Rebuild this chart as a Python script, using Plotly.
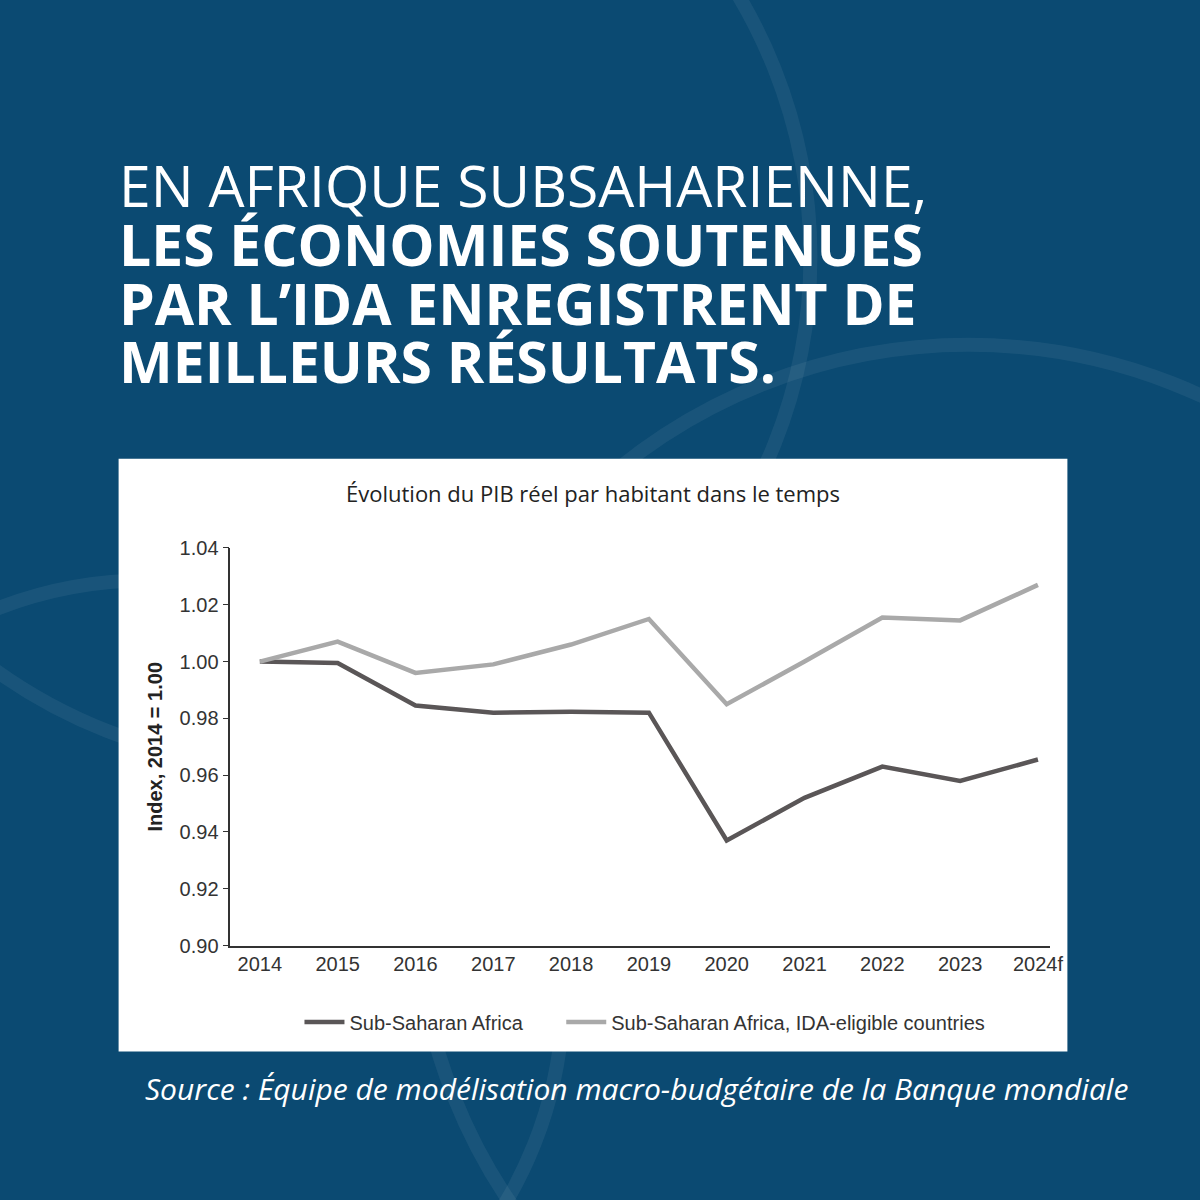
import plotly.graph_objects as go

years = ["2014", "2015", "2016", "2017", "2018", "2019", "2020", "2021", "2022", "2023", "2024f"]
ssa = [1.000, 0.9995, 0.9845, 0.982, 0.9823, 0.982, 0.937, 0.952, 0.963, 0.958, 0.9655]
ssa_ida = [1.000, 1.007, 0.996, 0.999, 1.006, 1.015, 0.985, 1.000, 1.0155, 1.0145, 1.027]
y_ticks = [0.90, 0.92, 0.94, 0.96, 0.98, 1.00, 1.02, 1.04]

title_lines = [
    "EN AFRIQUE SUBSAHARIENNE,",
    "<b>LES ÉCONOMIES SOUTENUES</b>",
    "<b>PAR L’IDA ENREGISTRENT DE</b>",
    "<b>MEILLEURS RÉSULTATS.</b>",
]

W = H = 1200
def px_x(v):
    return v / W
def px_y(v):
    return 1 - v / H

narrow = "Liberation Sans Narrow, Arial Narrow, sans-serif"
xs = list(range(len(years)))

fig = go.Figure()
fig.add_trace(go.Scatter(x=xs, y=ssa, mode="lines", name="Sub-Saharan Africa&nbsp;&nbsp;&nbsp;&nbsp;&nbsp;&nbsp;",
                         line=dict(color="#5a5657", width=4.5)))
fig.add_trace(go.Scatter(x=xs, y=ssa_ida, mode="lines",
                         name="Sub-Saharan Africa, IDA-eligible countries",
                         line=dict(color="#a9a9a9", width=4.5)))

shapes = [
    dict(type="rect", xref="paper", yref="paper", x0=px_x(120), x1=px_x(1080),
         y0=px_y(1060), y1=px_y(456), fillcolor="white", line_width=0, layer="below"),
]
# faint decorative circles on background
for cx, cy, r in [(300, 250, 520), (980, 900, 560), (150, 1000, 420)]:
    shapes.append(dict(type="circle", xref="paper", yref="paper",
                       x0=px_x(cx - r), x1=px_x(cx + r), y0=px_y(cy + r), y1=px_y(cy - r),
                       line=dict(color="rgba(255,255,255,0.06)", width=14), layer="below"))

annotations = []
for i, line in enumerate(title_lines):
    annotations.append(dict(xref="paper", yref="paper", x=px_x(118), y=px_y(177 + 60 * i),
                            xanchor="left", yanchor="middle", showarrow=False, text=line,
                            font=dict(family="Open Sans", size=57, color="white")))
annotations += [
    dict(xref="paper", yref="paper", x=px_x(600), y=px_y(491), xanchor="center", yanchor="middle",
         showarrow=False, text="Évolution du PIB réel par habitant dans le temps",
         font=dict(family="Open Sans", size=22, color="#222")),
    dict(xref="paper", yref="paper", x=px_x(644), y=px_y(1098), xanchor="center", yanchor="middle",
         showarrow=False,
         text="<i>Source : Équipe de modélisation macro-budgétaire de la Banque mondiale</i>",
         font=dict(family="Open Sans", size=30, color="white")),
]

fig.update_layout(
    width=W, height=H, margin=dict(l=0, r=0, t=0, b=0),
    paper_bgcolor="#0b4a72", plot_bgcolor="white",
    shapes=shapes, annotations=annotations,
    xaxis=dict(domain=[px_x(233), px_x(1062)], range=[-0.38, 10.15],
               tickvals=xs, ticktext=years, showgrid=False, zeroline=False,
               showline=True, linecolor="#333", linewidth=1.5, ticks="",
               tickfont=dict(family=narrow, size=20, color="#333")),
    yaxis=dict(domain=[px_y(952), px_y(547)], range=[0.90, 1.04],
               tickvals=y_ticks, ticktext=[f"{v:.2f}" for v in y_ticks],
               showgrid=False, zeroline=False, showline=True, linecolor="#333",
               linewidth=1.5, ticks="outside", ticklen=6, tickcolor="#333",
               tickfont=dict(family=narrow, size=20, color="#333"),
               title=dict(text="<b>Index, 2014 = 1.00</b>", standoff=12,
                          font=dict(family=narrow, size=20, color="#222"))),
    legend=dict(orientation="h", x=px_x(303), y=px_y(1030), xanchor="left", yanchor="middle",
                bgcolor="rgba(0,0,0,0)", font=dict(family=narrow, size=20, color="#333"),
                itemwidth=40),
    showlegend=True,
)

fig.write_html("out.html", config={"displayModeBar": False},
               post_script="document.body.style.margin='0';document.body.style.overflow='hidden';"
                           "document.documentElement.style.overflow='hidden';")
